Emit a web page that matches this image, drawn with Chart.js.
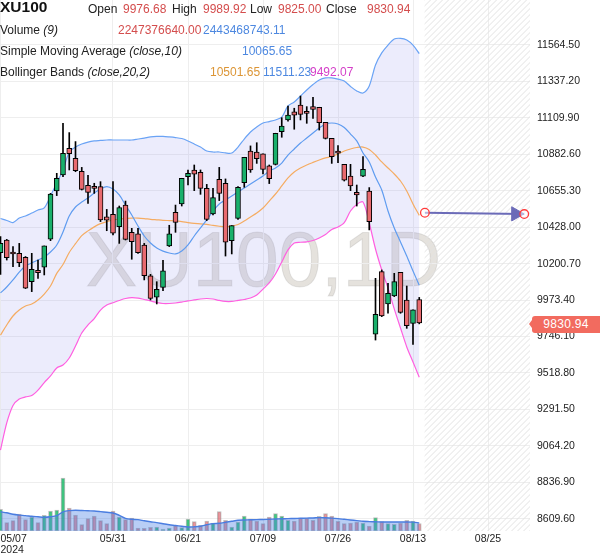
<!DOCTYPE html>
<html lang="en">
<head>
  <meta charset="UTF-8">
  <title>XU100 1D</title>
  <style>
    *{box-sizing:border-box;margin:0;padding:0}
    body{background:#fff;font-family:'Liberation Sans',Arial,sans-serif;color:#222;}
    .wrap{position:relative;width:600px;height:558px;overflow:hidden;}
    /* big symbol watermark, sits under the transparent canvas */
    .watermark{position:absolute;left:0;top:221px;width:527px;text-align:center;
      font-size:77px;line-height:77px;color:rgba(150,140,120,0.25);
      -webkit-text-stroke:1px rgba(110,110,110,0.15);z-index:0;white-space:nowrap;}
    .plot{position:absolute;left:0;top:0;width:600px;height:558px;z-index:1;}
    /* legend lines on top of the chart */
    .hdr{position:absolute;left:0;top:0;z-index:2;}
    .hdr span{position:absolute;white-space:nowrap;font-size:12px;line-height:14px;}
    .hdr .sym{font-weight:bold;font-size:15.5px;line-height:18px;color:#111;}
    .hdr i{font-style:italic;}
    .red{color:#d44d4d}.blue{color:#4d88e0}.orange{color:#dc9535}.mag{color:#d43fc8}
    #lastTag{position:absolute;left:532px;width:68px;height:17px;background:#f26b5f;color:#fff;
      font-size:12px;line-height:17px;text-align:center;border-radius:3px 0 0 3px;z-index:2;letter-spacing:.3px;}
    #lastTag::before{content:'';position:absolute;left:-3px;top:4px;border-style:solid;
      border-width:4.5px 3px 4.5px 0;border-color:transparent #f26b5f transparent transparent;}
  </style>
</head>
<body>
  <div class="wrap">
    <div class="watermark">XU100,1D</div>
    <div class="plot"><canvas id="chart"></canvas></div>

    <div class="hdr">
      <span class="sym" style="left:0;top:-2px">XU100</span>
      <span style="left:88px;top:2px">Open</span>
      <span class="red" style="left:123px;top:2px">9976.68</span>
      <span style="left:172px;top:2px">High</span>
      <span class="red" style="left:203px;top:2px">9989.92</span>
      <span style="left:250px;top:2px">Low</span>
      <span class="red" style="left:278px;top:2px">9825.00</span>
      <span style="left:326px;top:2px">Close</span>
      <span class="red" style="left:367px;top:2px">9830.94</span>

      <span style="left:0;top:23px">Volume <i>(9)</i></span>
      <span class="red" style="left:118px;top:23px">2247376640.00</span>
      <span class="blue" style="left:203px;top:23px">2443468743.11</span>

      <span style="left:0;top:44px">Simple Moving Average <i>(close,10)</i></span>
      <span class="blue" style="left:242px;top:44px">10065.65</span>

      <span style="left:0;top:64.5px">Bollinger Bands <i>(close,20,2)</i></span>
      <span class="orange" style="left:210px;top:64.5px">10501.65</span>
      <span class="blue" style="left:263px;top:64.5px">11511.23</span>
      <span class="mag" style="left:310px;top:64.5px">9492.07</span>
    </div>
    <div id="lastTag">9830.94</div>
  </div>

  <script src="https://cdn.jsdelivr.net/npm/chart.js"></script>
  <script>
    // x is the trading-day index, 0 = 05/07/2024, 67 = 08/14
    const tickDays = [0, 18, 30, 42, 54, 66, 78];
    const tickNames = ['05/07', '05/31', '06/21', '07/09', '07/26', '08/13', '08/25'];
    const priceTicks = [11564.50, 11337.20, 11109.90, 10882.60, 10655.30, 10428.00, 10200.70,
                        9973.40, 9746.10, 9518.80, 9291.50, 9064.20, 8836.90, 8609.60];

    const open = [10269,10348,10269,10265,10240,10088,10159,10178,10354,10654,
      10754,10920,10858,10776,10689,10673,10681,10492,10508,10431,
      10566,10396,10386,10317,10124,9991,10053,10311,10521,10573,
      10743,10785,10770,10670,10510,10727,10702,10344,10483,10706,
      10903,10897,10885,10810,10820,11024,11097,11147,11190,11146,
      11180,11176,11082,10982,10903,10820,10747,10646,10747,10654,
      9760,10151,9949,9999,10146,9974,9828,9976.68];
    const high = [10369,10352,10307,10327,10245,10265,10223,10311,10639,10764,
      11076,11018,10962,10801,10751,10702,10712,10539,10712,10560,
      10591,10421,10421,10327,10134,10088,10221,10440,10566,10733,
      10785,10816,10785,10695,10670,10801,10729,10438,10681,10864,
      10935,10955,10885,10816,11014,11111,11184,11170,11246,11180,
      11238,11176,11082,10982,10937,10820,10820,10691,10868,10675,
      10109,10161,10078,10140,10146,10061,9912,9989.92];
    const low = [10134,10223,10182,10182,10045,10026,10109,10130,10344,10625,
      10743,10785,10774,10660,10577,10639,10463,10406,10379,10327,
      10348,10228,10265,10099,9974,9949,10032,10307,10396,10560,
      10691,10656,10633,10469,10504,10594,10248,10261,10477,10677,
      10770,10826,10760,10700,10816,10989,11090,11039,11097,11076,
      11107,11034,10978,10826,10831,10716,10656,10560,10743,10411,
      9724,9870,9891,9995,9891,9797,9697,9825];
    const close = [10327,10238,10261,10207,10047,10165,10144,10311,10635,10733,
      10889,10887,10781,10664,10645,10670,10473,10471,10390,10550,
      10352,10338,10269,10126,9984,10040,10155,10386,10458,10733,
      10764,10758,10670,10477,10612,10639,10334,10438,10677,10864,
      10785,10856,10789,10731,11014,11059,11128,11126,11132,11138,
      11163,11080,10982,10868,10889,10722,10685,10629,10789,10463,
      9885,9874,10015,10088,9897,9814,9912,9830.94];

    // volume and its 9-day average, in billions
    const volume = [6.51,2.52,3.12,5.10,3.42,4.20,2.52,4.71,6.00,6.30,
      15.9,6.90,4.80,1.92,3.72,4.50,3.12,2.22,6.00,4.20,
      3.42,3.90,0.90,0.81,1.11,1.20,0.60,0.90,1.62,1.02,
      3.60,2.82,1.71,3.00,2.40,5.82,3.21,1.20,2.70,4.50,
      3.60,3.00,2.22,4.20,5.22,4.50,3.21,3.00,3.90,3.90,
      3.21,4.41,5.22,4.50,2.91,2.22,2.40,2.70,2.40,1.50,
      4.02,2.82,2.22,2.01,2.40,3.21,3.00,2.247];
    const volMa = [5.76,5.46,5.01,4.77,4.62,4.41,4.26,4.11,4.26,4.62,
      5.76,6.12,6.21,6.15,6.06,6.00,5.82,5.61,5.40,4.71,
      3.81,3.51,3.42,3.06,2.76,2.52,2.16,1.86,1.65,1.41,
      1.20,1.26,1.41,1.86,2.22,2.31,2.61,2.91,3.21,3.30,
      3.36,3.42,3.45,3.51,3.60,3.66,3.72,3.75,3.81,3.87,
      3.90,4.02,3.96,3.87,3.72,3.51,3.30,3.12,2.91,2.82,
      2.76,2.70,2.70,2.70,2.70,2.70,2.65,2.443];

    const sma10 = [10018,10055,10099,10148,10186,10205,10223,10242,10273,10317,
      10398,10498,10554,10585,10610,10641,10666,10681,10666,10629,
      10566,10504,10435,10373,10329,10298,10279,10267,10261,10279,
      10317,10373,10423,10473,10529,10573,10598,10623,10648,10672,
      10697,10722,10747,10778,10797,10828,10878,10916,10953,10984,
      11016,11047,11072,11078,11072,11050,11009,10966,10891,10835,
      10741,10660,10529,10423,10336,10248,10155,10065.65];
    const bbUpper = [10482,10470,10457,10485,10498,10516,10535,10548,10623,10704,
      10785,10897,10928,10947,10959,10966,10969,10972,10972,10972,
      10972,10972,10978,10984,10991,10994,10994,10991,10987,10981,
      10966,10947,10928,10903,10897,10897,10891,10891,10928,10978,
      11022,11053,11078,11087,11097,11115,11184,11209,11246,11284,
      11318,11346,11359,11359,11352,11340,11306,11278,11265,11309,
      11440,11515,11564,11602,11606,11596,11564,11511.23];
    const bbMiddle = [9755,9818,9874,9911,9936,9949,9974,10011,10061,10140,
      10195,10270,10325,10375,10405,10430,10450,10463,10473,10479,
      10482,10485,10485,10482,10477,10474,10471,10469,10467,10463,
      10457,10452,10449,10445,10439,10434,10431,10435,10445,10467,
      10492,10517,10548,10591,10635,10685,10735,10772,10797,10816,
      10832,10847,10860,10869,10885,10903,10916,10925,10928,10913,
      10878,10835,10797,10760,10716,10654,10573,10501.65];
    const bbLower = [9038,9207,9316,9356,9369,9378,9412,9459,9500,9550,
      9568,9612,9687,9768,9818,9858,9911,9943,9957,9971,
      9983,9989,9986,9977,9968,9958,9952,9952,9955,9961,
      9968,9974,9980,9983,9980,9971,9965,9965,9971,9977,
      9986,10005,10042,10080,10136,10211,10286,10329,10334,10336,
      10345,10361,10382,10414,10429,10457,10529,10570,10585,10454,
      10292,10161,10049,9918,9799,9681,9587,9492.07];

    // drawn arrow in the future zone (x = day index, y = price)
    const arrowX = [67.9, 83.8];
    const arrowY = [10518, 10510];
    const arrowHeadX = [82.45];
    const arrowHeadY = [10511];
    const futureFrom = 67.85;

    const X_MIN = -0.08, X_MAX = 84.72;

    const GREEN = '#19b06b', RED = '#e86a6f';
    const up = open.map((o, i) => close[i] >= o);
    const pts = arr => arr.map((v, i) => ({x: i, y: v}));

    // hatched "future" area
    const hatch = {
      id: 'hatch',
      beforeDatasetsDraw(chart) {
        const {ctx, chartArea: a, scales: {x}} = chart;
        const x0 = x.getPixelForValue(futureFrom);
        const h = a.bottom - a.top;
        ctx.save();
        ctx.beginPath();
        ctx.rect(x0, a.top, a.right - x0, h);
        ctx.clip();
        ctx.beginPath();
        ctx.strokeStyle = '#e2e2e2';
        ctx.lineWidth = 1;
        for (let k = x0 - h; k < a.right; k += 6) {
          ctx.moveTo(k, a.bottom);
          ctx.lineTo(k + h, a.top);
        }
        ctx.stroke();
        ctx.restore();
      }
    };

    // last price tag on the right axis
    const priceTag = {
      id: 'priceTag',
      afterDraw(chart) {
        const y = chart.scales.y.getPixelForValue(close[close.length - 1]);
        const tag = document.getElementById('lastTag');
        tag.style.top = (y - 7) + 'px';
        tag.style.left = (chart.chartArea.right + 2) + 'px';
      }
    };

    Chart.defaults.font.family = "'Liberation Sans', Arial, sans-serif";
    const tickFont = {size: 10.5, lineHeight: 1};

    new Chart(document.getElementById('chart'), {
      type: 'bar',
      data: {
        datasets: [
          {type: 'line', label: 'BB upper', data: pts(bbUpper), borderColor: '#6aa3f5', borderWidth: 1.2,
            pointRadius: 0, tension: 0.3, fill: '+1', backgroundColor: 'rgba(150,150,240,0.18)', order: 10},
          {type: 'line', label: 'BB lower', data: pts(bbLower), borderColor: '#ff5fe0', borderWidth: 1.2,
            pointRadius: 0, tension: 0.3, fill: false, order: 9},
          {type: 'line', label: 'BB middle', data: pts(bbMiddle), borderColor: '#f5ac62', borderWidth: 1.2,
            pointRadius: 0, tension: 0.3, fill: false, order: 8},
          {type: 'line', label: 'SMA 10', data: pts(sma10), borderColor: '#5f9cf0', borderWidth: 1.2,
            pointRadius: 0, tension: 0.3, fill: false, order: 7},
          {type: 'bar', label: 'Volume', yAxisID: 'yv', data: pts(volume), grouped: false, barThickness: 4,
            backgroundColor: up.map(u => u ? 'rgba(20,185,100,0.8)' : 'rgba(225,95,105,0.65)'),
            borderColor: 'rgba(140,140,140,0.55)', borderWidth: 1, borderSkipped: false, order: 6},
          {type: 'line', label: 'Volume MA', yAxisID: 'yv', data: pts(volMa), borderColor: '#4a7de0', borderWidth: 1.4,
            pointRadius: 0, tension: 0.3, fill: 'origin', backgroundColor: 'rgba(70,125,230,0.38)', order: 5},
          {type: 'bar', label: 'Wick', data: low.map((l, i) => ({x: i, y: [l, high[i]]})), grouped: false,
            barThickness: 1, backgroundColor: '#000', borderWidth: 0, order: 4},
          {type: 'bar', label: 'Body', data: open.map((o, i) => ({x: i, y: [Math.min(o, close[i]), Math.max(o, close[i])]})),
            grouped: false, barThickness: 5, minBarLength: 2, backgroundColor: up.map(u => u ? GREEN : RED),
            borderColor: '#000', borderWidth: 1, borderSkipped: false, order: 3},
          {type: 'line', label: 'Arrow', data: arrowX.map((x, i) => ({x, y: arrowY[i]})), borderColor: '#6b6bb8',
            borderWidth: 2, pointRadius: 0, fill: false, order: 2},
          {type: 'line', label: 'Arrow head', data: arrowHeadX.map((x, i) => ({x, y: arrowHeadY[i]})), showLine: false,
            pointStyle: 'triangle', rotation: 90, pointRadius: 8.2, pointBackgroundColor: '#6b6bb8',
            pointBorderColor: '#6b6bb8', pointBorderWidth: 1, order: 1},
          {type: 'line', label: 'Anchors', data: arrowX.map((x, i) => ({x, y: arrowY[i]})), showLine: false,
            pointStyle: 'circle', pointRadius: 4.3, pointBackgroundColor: 'rgba(255,255,255,0.5)',
            pointBorderColor: '#ff3b3b', pointBorderWidth: 1.3, order: 0}
        ]
      },
      options: {
        responsive: true,
        maintainAspectRatio: false,
        animation: false,
        events: [],
        layout: {padding: 0, autoPadding: false},
        plugins: {legend: {display: false}, tooltip: {enabled: false}},
        scales: {
          x: {
            type: 'linear', min: X_MIN, max: X_MAX, offset: false,
            afterBuildTicks: s => { s.ticks = tickDays.concat([X_MAX]).map(v => ({value: v})); },
            afterFit: s => { s.height = 27; s.paddingLeft = 0; s.paddingRight = 0; },
            grid: {color: c => (c.tick && c.tick.value > 80) ? 'rgba(0,0,0,0)' : '#eeeeee', drawTicks: false, offset: false},
            border: {display: false},
            ticks: {
              align: 'inner', padding: 3, maxRotation: 0, autoSkip: false, color: '#222', font: tickFont,
              callback: v => {
                const k = tickDays.indexOf(v);
                if (k === 0) return [tickNames[0], '2024'];
                return k < 0 ? '' : tickNames[k];
              }
            }
          },
          y: {
            position: 'right', min: 8532.8, max: 11845.2, bounds: 'data',
            afterBuildTicks: s => { s.ticks = priceTicks.map(v => ({value: v})); },
            afterFit: s => { s.width = 70; s.paddingTop = 0; s.paddingBottom = 0; },
            grid: {color: '#eeeeee', drawTicks: false},
            border: {display: false},
            ticks: {padding: 7, color: '#222', font: tickFont, callback: v => v.toFixed(2)}
          },
          yv: {display: false, min: 0, max: 159.3}
        }
      },
      plugins: [hatch, priceTag]
    });
  </script>
</body>
</html>
